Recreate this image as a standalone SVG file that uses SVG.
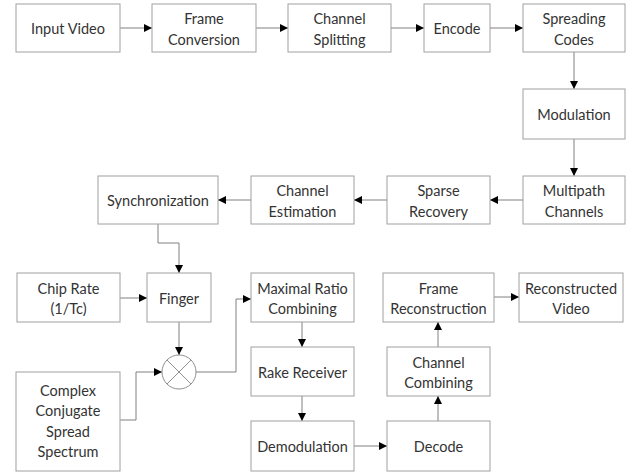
<svg xmlns="http://www.w3.org/2000/svg" width="632" height="474" viewBox="0 0 632 474">
<style>
.b{fill:#fff;stroke:#a0a0a0;stroke-width:1}
.t{font-family:Lato,"Open Sans","Liberation Sans",sans-serif;font-size:14.5px;fill:#333;text-anchor:middle}
.c{fill:none;stroke:#808080;stroke-width:1}
</style>
<defs>
<marker id="a" viewBox="0 0 10 10" refX="10" refY="5" markerWidth="8" markerHeight="8" markerUnits="userSpaceOnUse" orient="auto">
<path d="M0,0 L10,5 L0,10 z" fill="#000"/>
</marker>
</defs>
<rect width="632" height="474" fill="#fff"/>
<g id="connectors">
<path class="c" marker-end="url(#a)" d="M120,28 H152"/>
<path class="c" marker-end="url(#a)" d="M256,28 H288"/>
<path class="c" marker-end="url(#a)" d="M391,28 H424"/>
<path class="c" marker-end="url(#a)" d="M490,28 H523"/>
<path class="c" marker-end="url(#a)" d="M574,52 V89"/>
<path class="c" marker-end="url(#a)" d="M574,139 V176"/>
<path class="c" marker-end="url(#a)" d="M523,200 H490"/>
<path class="c" marker-end="url(#a)" d="M387,200 H354"/>
<path class="c" marker-end="url(#a)" d="M251,200 H218"/>
<path class="c" marker-end="url(#a)" d="M158,224 V243 H179 V273"/>
<path class="c" marker-end="url(#a)" d="M120,298 H147"/>
<path class="c" marker-end="url(#a)" d="M179,322 V355"/>
<path class="c" marker-end="url(#a)" d="M120,420 H136 V372 H162"/>
<path class="c" marker-end="url(#a)" d="M196,372 H236 V299 H251"/>
<path class="c" marker-end="url(#a)" d="M302,322 V347"/>
<path class="c" marker-end="url(#a)" d="M302,396 V421"/>
<path class="c" marker-end="url(#a)" d="M354,446 H387"/>
<path class="c" marker-end="url(#a)" d="M438,421 V396"/>
<path class="c" marker-end="url(#a)" d="M438,347 V322"/>
<path class="c" marker-end="url(#a)" d="M494,297 H519"/>
</g>
<g id="input-video"><rect class="b" x="16" y="4" width="104" height="48"/><text class="t" x="68" y="34">Input Video</text></g>
<g id="frame-conversion"><rect class="b" x="152" y="4" width="104" height="48"/><text class="t" x="204" y="24">Frame</text><text class="t" x="204" y="44.5">Conversion</text></g>
<g id="channel-splitting"><rect class="b" x="288" y="4" width="103" height="48"/><text class="t" x="339.5" y="24">Channel</text><text class="t" x="339.5" y="44.5">Splitting</text></g>
<g id="encode"><rect class="b" x="424" y="4" width="66" height="48"/><text class="t" x="457" y="34">Encode</text></g>
<g id="spreading-codes"><rect class="b" x="523" y="4" width="102" height="48"/><text class="t" x="574" y="24">Spreading</text><text class="t" x="574" y="44.5">Codes</text></g>
<g id="modulation"><rect class="b" x="523" y="89" width="102" height="50"/><text class="t" x="574" y="120">Modulation</text></g>
<g id="multipath-channels"><rect class="b" x="523" y="176" width="102" height="48"/><text class="t" x="574" y="196">Multipath</text><text class="t" x="574" y="216.5">Channels</text></g>
<g id="sparse-recovery"><rect class="b" x="387" y="176" width="103" height="48"/><text class="t" x="438.5" y="196">Sparse</text><text class="t" x="438.5" y="216.5">Recovery</text></g>
<g id="channel-estimation"><rect class="b" x="251" y="176" width="103" height="48"/><text class="t" x="302.5" y="196">Channel</text><text class="t" x="302.5" y="216.5">Estimation</text></g>
<g id="synchronization"><rect class="b" x="98" y="176" width="120" height="48"/><text class="t" x="158" y="206">Synchronization</text></g>
<g id="chip-rate"><rect class="b" x="17" y="273" width="103" height="49"/><text class="t" x="68.5" y="293.5">Chip Rate</text><text class="t" x="68.5" y="314">(1/Tc)</text></g>
<g id="finger"><rect class="b" x="147" y="273" width="64" height="49"/><text class="t" x="179" y="303.5">Finger</text></g>
<g id="mrc"><rect class="b" x="251" y="273" width="103" height="49"/><text class="t" x="302.5" y="293.5">Maximal Ratio</text><text class="t" x="302.5" y="314">Combining</text></g>
<g id="frame-reconstruction"><rect class="b" x="383" y="273" width="111" height="49"/><text class="t" x="438.5" y="293.5">Frame</text><text class="t" x="438.5" y="314">Reconstruction</text></g>
<g id="reconstructed-video"><rect class="b" x="519" y="273" width="104" height="49"/><text class="t" x="571" y="293.5">Reconstructed</text><text class="t" x="571" y="314">Video</text></g>
<g id="multiplier"><circle cx="179" cy="372" r="17" fill="#fff" stroke="#909090"/><path d="M167,360 L191,384 M191,360 L167,384" stroke="#909090" fill="none"/></g>
<g id="complex-conjugate"><rect class="b" x="16" y="372" width="104" height="99"/><text class="t" x="68" y="395.5">Complex</text><text class="t" x="68" y="416">Conjugate</text><text class="t" x="68" y="436.5">Spread</text><text class="t" x="68" y="457">Spectrum</text></g>
<g id="rake-receiver"><rect class="b" x="251" y="347" width="103" height="49"/><text class="t" x="302.5" y="377.5">Rake Receiver</text></g>
<g id="demodulation"><rect class="b" x="251" y="421" width="103" height="50"/><text class="t" x="302.5" y="452">Demodulation</text></g>
<g id="decode"><rect class="b" x="387" y="421" width="103" height="50"/><text class="t" x="438.5" y="452">Decode</text></g>
<g id="channel-combining"><rect class="b" x="387" y="347" width="103" height="49"/><text class="t" x="438.5" y="367.5">Channel</text><text class="t" x="438.5" y="388">Combining</text></g>
</svg>
